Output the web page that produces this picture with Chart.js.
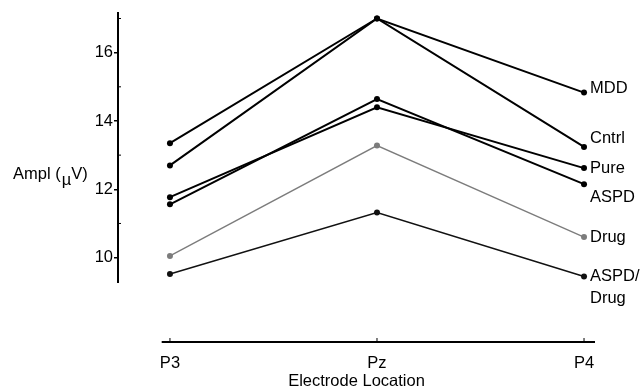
<!DOCTYPE html>
<html>
<head>
<meta charset="utf-8">
<script src="https://cdn.jsdelivr.net/npm/chart.js@4/dist/chart.umd.min.js"></script>
<style>
  html, body { margin: 0; padding: 0; background: #fff; }
  canvas { display: block; }
</style>
</head>
<body>
<canvas id="chart" width="640" height="391"></canvas>
<script>
// electrode sites along the x axis
const sites = ['P3', 'Pz', 'P4'];
// amplitude (µV) per group at P3, Pz, P4
const groups = ['MDD', 'Cntrl', 'Pure', 'ASPD', 'Drug', 'ASPD/\nDrug'];
const mdd      = [13.35, 17.0, 14.83];
const cntrl    = [12.7, 17.0, 13.24];
const pure     = [11.77, 14.4, 12.62];
const aspd     = [11.56, 14.64, 12.15];
const drug     = [10.05, 13.28, 10.6];
const aspdDrug = [9.52, 11.32, 9.45];
const yTicks = [10, 12, 14, 16];

const series = [mdd, cntrl, pure, aspd, drug, aspdDrug];
const colors = ['#000', '#000', '#000', '#000', '#7c7c7c', '#111'];
const widths = [2, 2, 2, 2, 1.3, 1.5];
const labelShift = [-4, -8, 0, 13, 0, 0];

const FONT = 'Arial, "Liberation Sans", Helvetica, sans-serif';
const FS = 16.5;

const axesPlugin = {
  id: 'axes',
  afterDraw(chart) {
    const { ctx, chartArea, scales: { x, y } } = chart;
    ctx.save();
    ctx.strokeStyle = '#000';
    ctx.lineWidth = 2;
    // y axis line, stops above x axis
    ctx.beginPath();
    ctx.moveTo(chartArea.left, chartArea.top);
    ctx.lineTo(chartArea.left, y.getPixelForValue(9.26));
    ctx.stroke();
    // minor y ticks
    ctx.lineWidth = 1;
    [11, 13, 15, 17].forEach(v => {
      const py = y.getPixelForValue(v);
      ctx.beginPath();
      ctx.moveTo(chartArea.left, py);
      ctx.lineTo(chartArea.left + 3, py);
      ctx.stroke();
    });
    // x axis line
    ctx.lineWidth = 2;
    ctx.beginPath();
    ctx.moveTo(x.getPixelForValue(-0.04), chartArea.bottom);
    ctx.lineTo(chartArea.right, chartArea.bottom);
    ctx.stroke();
    ctx.lineWidth = 1;
    sites.forEach((s, i) => {
      const px = x.getPixelForValue(i);
      ctx.beginPath();
      ctx.moveTo(px, chartArea.bottom);
      ctx.lineTo(px, chartArea.bottom - 4);
      ctx.stroke();
    });
    // y title, horizontal with lowered mu
    ctx.fillStyle = '#000';
    ctx.font = FS + 'px ' + FONT;
    ctx.textBaseline = 'alphabetic';
    let tx = 13, by = 179;
    ctx.fillText('Ampl (', tx, by);
    tx += ctx.measureText('Ampl (').width + 1;
    ctx.fillText('\u00b5', tx, by + 6);
    tx += ctx.measureText('\u00b5').width;
    ctx.fillText('V)', tx, by);
    ctx.restore();
  }
};

const endLabels = {
  id: 'endLabels',
  afterDatasetsDraw(chart) {
    const { ctx } = chart;
    ctx.save();
    ctx.fillStyle = '#000';
    ctx.font = FS + 'px ' + FONT;
    ctx.textBaseline = 'middle';
    chart.data.datasets.forEach((ds, i) => {
      const pt = chart.getDatasetMeta(i).data[2];
      ds.label.split('\n').forEach((line, k) => {
        ctx.fillText(line, pt.x + 6, pt.y + labelShift[i] + k * 22);
      });
    });
    ctx.restore();
  }
};

new Chart(document.getElementById('chart'), {
  type: 'line',
  data: {
    datasets: series.map((vals, i) => ({
      label: groups[i],
      data: vals.map((v, j) => ({ x: j, y: v })),
      borderColor: colors[i],
      backgroundColor: colors[i],
      borderWidth: widths[i],
      pointRadius: 3,
      pointBorderWidth: 0,
      tension: 0
    }))
  },
  options: {
    responsive: false,
    devicePixelRatio: 1,
    animation: false,
    layout: { padding: { top: 12, right: 45, left: 0, bottom: 0 } },
    plugins: { legend: { display: false }, tooltip: { enabled: false } },
    scales: {
      x: {
        type: 'linear',
        min: -0.251, max: 2.053,
        afterBuildTicks: s => { s.ticks = sites.map((_, i) => ({ value: i })); },
        afterFit: s => { s.height = 49; },
        border: { display: false },
        grid: { display: false },
        ticks: {
          padding: 4, color: '#000', maxRotation: 0,
          font: { family: FONT, size: FS },
          callback: v => sites[v]
        },
        title: {
          display: true, text: 'Electrode Location', color: '#000',
          font: { family: FONT, size: FS }, padding: { top: 0, bottom: 0 }
        }
      },
      y: {
        min: 7.53, max: 17.19,
        afterBuildTicks: s => { s.ticks = yTicks.map(v => ({ value: v })); },
        afterFit: s => { s.width = 118; },
        border: { display: false },
        grid: { drawOnChartArea: false, drawTicks: true, tickLength: 4, color: '#000', lineWidth: 1.5 },
        ticks: { padding: 1, color: '#000', font: { family: FONT, size: FS } }
      }
    }
  },
  plugins: [axesPlugin, endLabels]
});
</script>
</body>
</html>
